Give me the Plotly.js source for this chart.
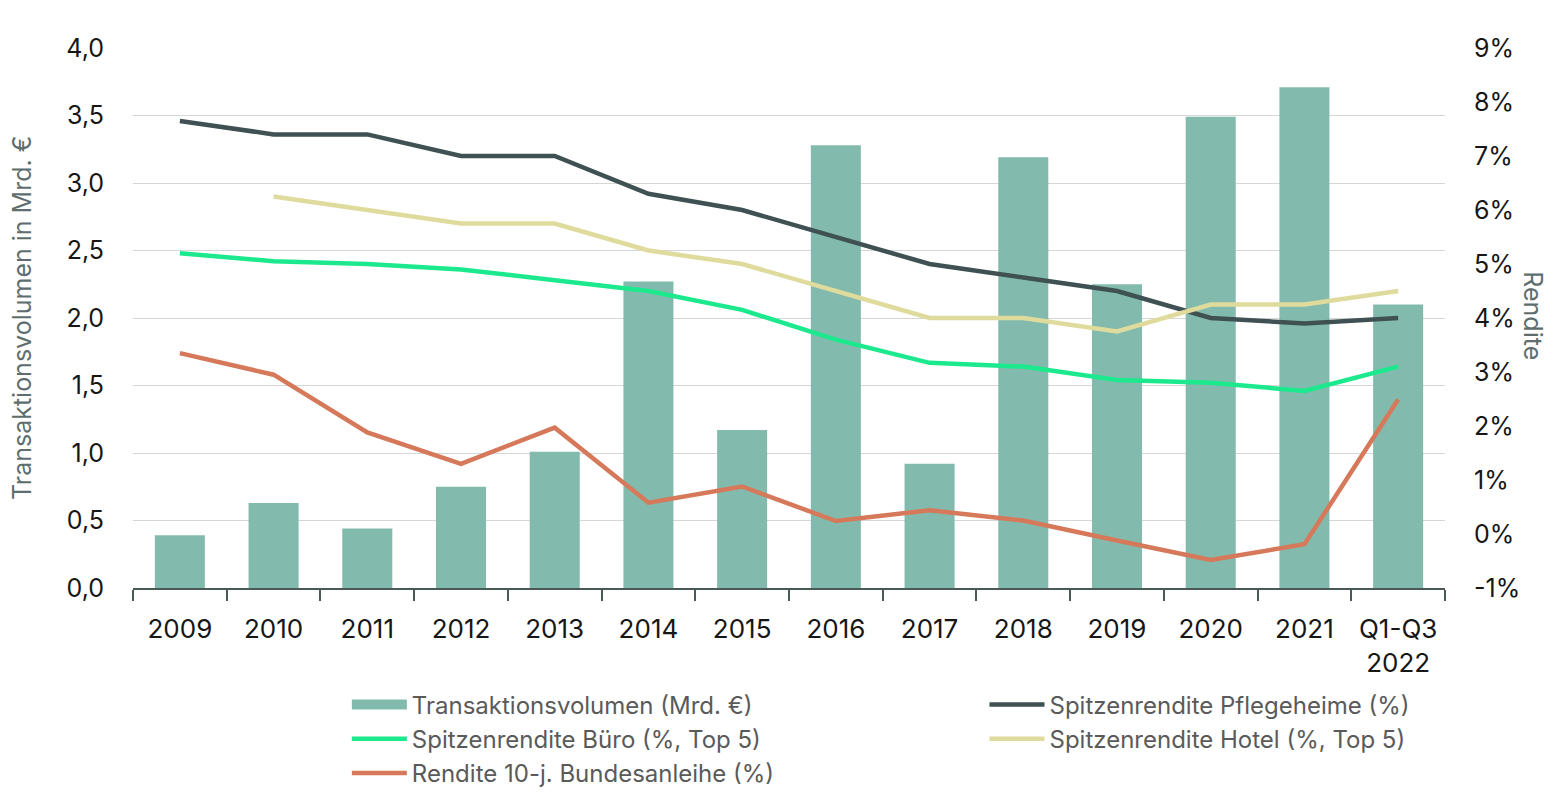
<!DOCTYPE html>
<html><head><meta charset="utf-8">
<script src="https://cdn.plot.ly/plotly-3.0.1.min.js"></script>
<style>html,body{margin:0;padding:0;background:#fff;}#chart{width:1560px;height:807px;}</style>
</head><body><div id="chart"></div>
<script>
const categories = ['2009','2010','2011','2012','2013','2014','2015','2016','2017','2018','2019','2020','2021','Q1-Q3<br>2022'];
const volumen = [0.39,0.63,0.44,0.75,1.01,2.27,1.17,3.28,0.92,3.19,2.25,3.49,3.71,2.10];
const pflege = [7.65,7.4,7.4,7.0,7.0,6.3,6.0,5.5,5.0,4.75,4.5,4.0,3.9,4.0];
const buero = [5.2,5.05,5.0,4.9,4.7,4.5,4.15,3.6,3.17,3.1,2.85,2.8,2.65,3.1];
const hotel = [null,6.25,6.0,5.75,5.75,5.25,5.0,4.5,4.0,4.0,3.75,4.25,4.25,4.5];
const bund = [3.35,2.95,1.88,1.3,1.97,0.58,0.88,0.24,0.44,0.25,-0.12,-0.48,-0.19,2.49];
const leftTicks = [0,0.5,1,1.5,2,2.5,3,3.5,4];
const rightTicks = [-1,0,1,2,3,4,5,6,7,8,9];
const rightTickText = rightTicks.map(v => v + '%');

const FONT = 'Inter, "Noto Sans", sans-serif';
const BAR = '#82bbad';
const lineW = 4.5;
const traces = [
  {type:'bar', x:categories, y:volumen, name:'Transaktionsvolumen (Mrd. €)', marker:{color:BAR}, yaxis:'y', showlegend:false},
  {type:'scatter', mode:'lines', x:[categories[0]], y:[null], name:'Transaktionsvolumen (Mrd. €)', line:{color:BAR, width:16}, yaxis:'y', hoverinfo:'skip', legend:'legend', legendrank:1},
  {type:'scatter', mode:'lines', x:categories, y:pflege, name:'Spitzenrendite Pflegeheime (%)', line:{color:'#3f5152', width:lineW}, yaxis:'y2', legend:'legend2', legendrank:1},
  {type:'scatter', mode:'lines', x:categories, y:buero, name:'Spitzenrendite Büro (%, Top 5)', line:{color:'#1ce98d', width:lineW}, yaxis:'y2', legend:'legend', legendrank:2},
  {type:'scatter', mode:'lines', x:categories, y:hotel, name:'Spitzenrendite Hotel (%, Top 5)', line:{color:'#dfdb9c', width:lineW}, yaxis:'y2', legend:'legend2', legendrank:2},
  {type:'scatter', mode:'lines', x:categories, y:bund, name:'Rendite 10-j. Bundesanleihe (%)', line:{color:'#d6795a', width:lineW}, yaxis:'y2', legend:'legend', legendrank:3}
];
const legendBase = {orientation:'v', xanchor:'left', y:-0.175, yanchor:'top',
  font:{size:24, color:'#5a5a5a'}, itemwidth:55, tracegroupgap:0, traceorder:'normal', bgcolor:'rgba(0,0,0,0)'};
const layout = {
  width:1560, height:807,
  margin:{l:133, r:115, t:48, b:217},
  paper_bgcolor:'#fff', plot_bgcolor:'#fff',
  font:{family:FONT, size:25, color:'#161616'},
  separators:',.',
  bargap:0.466,
  showlegend:true,
  legend:Object.assign({}, legendBase, {x:0.163}),
  legend2:Object.assign({}, legendBase, {x:0.649}),
  xaxis:{type:'category', tickson:'boundaries', ticks:'outside', ticklen:11, tickcolor:'#4a5858', tickwidth:1.5,
    showline:true, linecolor:'#4a5858', linewidth:1.5, showgrid:false, tickfont:{size:26, color:'#161616'},
    zeroline:false, ticklabelstandoff:17, automargin:false},
  yaxis:{range:[0,4], tickmode:'array', tickvals:leftTicks, tickformat:'.1f', showgrid:true, gridcolor:'#d6d6d6', gridwidth:1.2,
    zeroline:false, showline:false, ticks:'', ticklabelstandoff:28, tickfont:{size:25, color:'#161616'}, automargin:false},
  yaxis2:{range:[-1,9], tickmode:'array', tickvals:rightTicks, ticktext:rightTickText, overlaying:'y', side:'right', showgrid:false,
    zeroline:false, showline:false, ticks:'', ticklabelstandoff:28, tickfont:{size:25, color:'#161616'}, automargin:false},
  annotations:[
    {text:'Transaktionsvolumen in Mrd. €', xref:'paper', yref:'paper', x:(22-133)/1312, y:0.5, textangle:-90,
      showarrow:false, font:{size:25, color:'#5e6e6e'}, xanchor:'center', yanchor:'middle'},
    {text:'Rendite', xref:'paper', yref:'paper', x:(1533-133)/1312, y:0.505, textangle:90,
      showarrow:false, font:{size:25, color:'#5e6e6e'}, xanchor:'center', yanchor:'middle'}
  ]
};
Plotly.newPlot('chart', traces, layout, {displayModeBar:false, responsive:false});
</script></body></html>
